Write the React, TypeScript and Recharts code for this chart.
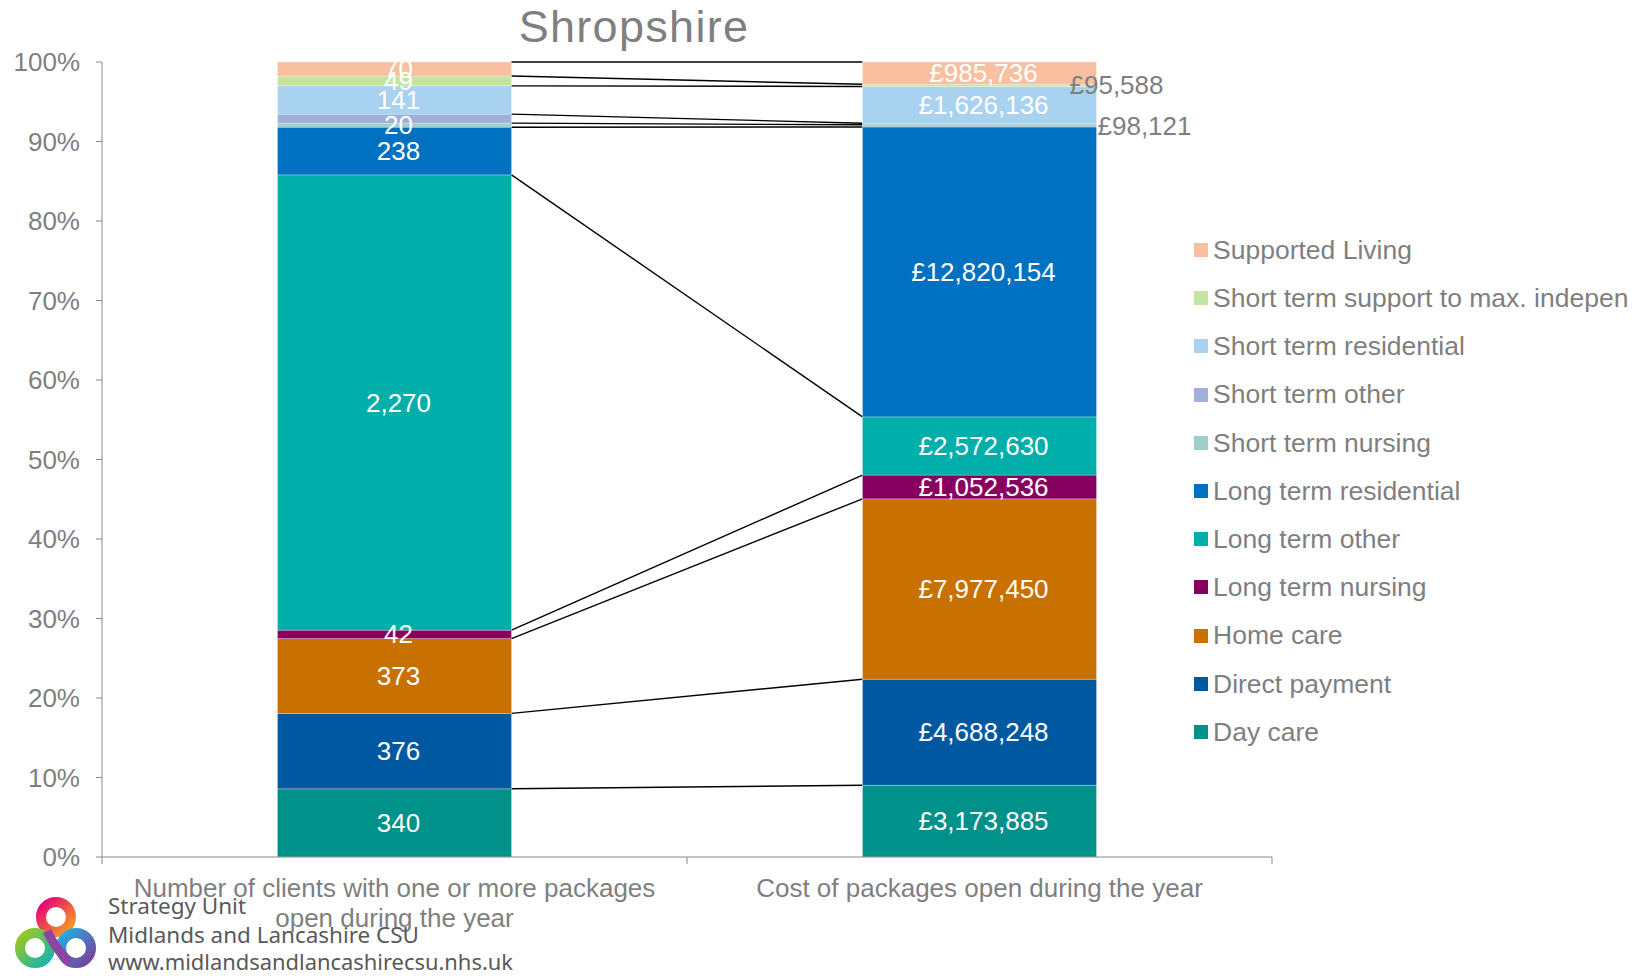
import { BarChart, Bar, XAxis, YAxis, Legend, LabelList } from 'recharts'

const CATEGORIES = [
  'Number of clients with one or more packages open during the year',
  'Cost of packages open during the year',
]
// the axis labels as Excel wrapped them
const CATEGORY_LINES = [
  ['Number of clients with one or more packages', 'open during the year'],
  ['Cost of packages open during the year'],
]

// stacking order, bottom to top
const SERIES_KEYS = [
  'dayCare',
  'directPayment',
  'homeCare',
  'ltNursing',
  'ltOther',
  'ltResidential',
  'stNursing',
  'stOther',
  'stResidential',
  'stSupport',
  'supportedLiving',
]
const SERIES_NAMES = [
  'Day care',
  'Direct payment',
  'Home care',
  'Long term nursing',
  'Long term other',
  'Long term residential',
  'Short term nursing',
  'Short term other',
  'Short term residential',
  'Short term support to max. indepen',
  'Supported Living',
]
const CLIENTS = [340, 376, 373, 42, 2270, 238, 20, 45, 141, 49, 70]
const COSTS = [3173885, 4688248, 7977450, 1052536, 2572630, 12820154, 98121, 70000, 1626136, 95588, 985736]
const Y_TICKS = [0, 0.1, 0.2, 0.3, 0.4, 0.5, 0.6, 0.7, 0.8, 0.9, 1]

const COLORS = [
  '#00918a',
  '#0059a0',
  '#c87000',
  '#870060',
  '#00afaa',
  '#0070c0',
  '#9ecfc8',
  '#a0b0d8',
  '#a9d1f0',
  '#c4e59f',
  '#f8bfa0',
]

// labels on the cost bar that Excel placed outside, with their x offset from the bar edge
const HIDDEN_LABELS = ['stOther']
const OUTSIDE_LABEL_DX: Record<string, number> = { stSupport: 20, stNursing: 48 }

const CHART_W = 1641
const CHART_H = 976
const Y_AXIS_W = 102
const MARGIN_RIGHT = 369
const MARGIN_TOP = 62
const X_AXIS_H = 119
const CATEGORY_GAP = 0.3
const PLOT_W = CHART_W - Y_AXIS_W - MARGIN_RIGHT
const GREY = '#7f7f7f'
const AXIS_GREY = '#898989'
const FONT = '"Liberation Sans", Arial, sans-serif'

const rows = CATEGORIES.map((name, i) => {
  const row: Record<string, string | number> = { name, idx: i }
  const src = i === 0 ? CLIENTS : COSTS
  SERIES_KEYS.forEach((k, s) => {
    row[k] = src[s]
  })
  return row
})

const sum = (a: number[]) => a.reduce((t, v) => t + v, 0)
const cum = (a: number[], n: number) => sum(a.slice(0, n))

const fmt = (v: number, cat: number) =>
  (cat === 1 ? '£' : '') + v.toLocaleString('en-GB')

// bar segment + Excel style series line to the same series on the next bar
const makeShape = (s: number) => (props: any) => {
  const { x, y, width, height, fill, index, background } = props
  const rect = (
    <rect
      x={x}
      y={y}
      width={width}
      height={Math.max(height, 0)}
      fill={fill}
      stroke="rgba(255,255,255,0.35)"
      strokeWidth={0.75}
    />
  )
  if (index !== 0) return rect
  const totL = sum(CLIENTS)
  const totR = sum(COSTS)
  let top: number
  let h: number
  if (background && background.height > 0) {
    top = background.y
    h = background.height
  } else {
    h = height / (CLIENTS[s] / totL)
    top = y + height + (cum(CLIENTS, s) / totL) * h - h
  }
  const step = width / (1 - 2 * CATEGORY_GAP)
  const y2 = top + h * (1 - cum(COSTS, s + 1) / totR)
  return (
    <g>
      {rect}
      <line x1={x + width} y1={y} x2={x + step} y2={y2} stroke="#000" strokeWidth={1.4} />
    </g>
  )
}

const makeLabel = (s: number) => (props: any) => {
  const vb = props.viewBox || props
  const { x, y, width, height } = vb
  const index = props.index
  const key = SERIES_KEYS[s]
  if (HIDDEN_LABELS.includes(key)) return null
  const value = index === 0 ? CLIENTS[s] : COSTS[s]
  const outside = index === 1 ? OUTSIDE_LABEL_DX[key] : undefined
  if (outside !== undefined) {
    return (
      <text
        x={x + width + outside}
        y={y + height / 2}
        dy="0.35em"
        textAnchor="middle"
        fill={GREY}
        fontSize={26}
      >
        {fmt(value, index)}
      </text>
    )
  }
  return (
    <text
      x={x + width / 2 + 4}
      y={y + height / 2}
      dy="0.35em"
      textAnchor="middle"
      fill="#fff"
      fontSize={26}
    >
      {fmt(value, index)}
    </text>
  )
}

function CategoryTick(props: any) {
  const { x, y, index } = props
  const step = PLOT_W / CATEGORIES.length
  const axisY = y - 8
  const lines = CATEGORY_LINES[index] || []
  return (
    <g>
      <line x1={x - step / 2} x2={x - step / 2} y1={axisY} y2={axisY + 7} stroke={AXIS_GREY} />
      {index === CATEGORIES.length - 1 && (
        <line x1={x + step / 2} x2={x + step / 2} y1={axisY} y2={axisY + 7} stroke={AXIS_GREY} />
      )}
      <text x={x} y={y + 32} textAnchor="middle" fontSize={26} fill={GREY}>
        {lines.map((l, i) => (
          <tspan key={i} x={x} dy={i === 0 ? 0 : 30}>
            {l}
          </tspan>
        ))}
      </text>
    </g>
  )
}

function LegendList() {
  const order = SERIES_KEYS.map((_, i) => i).reverse()
  return (
    <div style={{ display: 'flex', flexDirection: 'column', fontFamily: FONT }}>
      {order.map((i) => (
        <div
          key={SERIES_KEYS[i]}
          style={{ height: 48.2, display: 'flex', alignItems: 'center', whiteSpace: 'nowrap' }}
        >
          <span style={{ width: 14, height: 14, background: COLORS[i], marginRight: 5, flex: 'none' }} />
          <span style={{ fontSize: 26.5, color: GREY, lineHeight: 1 }}>{SERIES_NAMES[i]}</span>
        </div>
      ))}
    </div>
  )
}

function Logo() {
  return (
    <svg
      width={CHART_W}
      height={CHART_H}
      style={{ position: 'absolute', left: 0, top: 0, pointerEvents: 'none' }}
    >
      <defs>
        <linearGradient id="gTop" x1="0" y1="0" x2="1" y2="1">
          <stop offset="0%" stopColor="#e4007c" />
          <stop offset="100%" stopColor="#f7a21b" />
        </linearGradient>
        <linearGradient id="gLeft" x1="0" y1="0" x2="1" y2="1">
          <stop offset="0%" stopColor="#a3c81a" />
          <stop offset="100%" stopColor="#12b3b0" />
        </linearGradient>
        <linearGradient id="gRight" x1="0" y1="0" x2="1" y2="1">
          <stop offset="0%" stopColor="#22b0e6" />
          <stop offset="100%" stopColor="#7a3d98" />
        </linearGradient>
      </defs>
      <circle cx={56} cy={917} r={15} fill="none" stroke="url(#gTop)" strokeWidth={10} />
      <circle cx={35} cy={948} r={15} fill="none" stroke="url(#gLeft)" strokeWidth={10} />
      <circle cx={76} cy={948} r={15} fill="none" stroke="url(#gRight)" strokeWidth={10} />
      <path d="M 47 931 Q 57 951 70 963" fill="none" stroke="#8e44a0" strokeWidth={9} />
      <g fontFamily='"Noto Sans", "Open Sans", sans-serif' fontSize={22} fill="#595959">
        <text x={108} y={914} textLength={138} lengthAdjust="spacingAndGlyphs">
          Strategy Unit
        </text>
        <text x={108} y={943} textLength={311} lengthAdjust="spacingAndGlyphs">
          Midlands and Lancashire CSU
        </text>
        <text x={108} y={970} textLength={405} lengthAdjust="spacingAndGlyphs">
          www.midlandsandlancashirecsu.nhs.uk
        </text>
      </g>
    </svg>
  )
}

export default function App() {
  return (
    <div
      style={{
        position: 'absolute',
        left: 0,
        top: 0,
        width: CHART_W,
        height: CHART_H,
        background: '#fff',
        fontFamily: FONT,
        overflow: 'hidden',
      }}
    >
      <div
        style={{
          position: 'absolute',
          left: 434,
          top: 4,
          width: 400,
          textAlign: 'center',
          fontSize: 45,
          lineHeight: '45px',
          letterSpacing: 1.3,
          color: GREY,
        }}
      >
        Shropshire
      </div>
      <BarChart
        width={CHART_W}
        height={CHART_H}
        data={rows}
        stackOffset="expand"
        barCategoryGap={`${CATEGORY_GAP * 100}%`}
        margin={{ top: MARGIN_TOP, right: MARGIN_RIGHT, bottom: 0, left: 0 }}
      >
        <XAxis
          dataKey="name"
          height={X_AXIS_H}
          interval={0}
          tickLine={false}
          tickSize={6}
          tickMargin={2}
          axisLine={{ stroke: AXIS_GREY }}
          tick={<CategoryTick />}
        />
        <YAxis
          width={Y_AXIS_W}
          domain={[0, 1]}
          ticks={Y_TICKS}
          tickFormatter={(v: number) => `${Math.round(v * 100)}%`}
          tick={{ fill: GREY, fontSize: 26 }}
          tickSize={6}
          tickMargin={16}
          tickLine={{ stroke: AXIS_GREY }}
          axisLine={{ stroke: AXIS_GREY }}
        />
        <Legend
          layout="vertical"
          align="center"
          verticalAlign="middle"
          wrapperStyle={{ left: 1194, top: 226, width: 'auto' }}
          content={() => <LegendList />}
        />
        {SERIES_KEYS.map((k, s) => (
          <Bar
            key={k}
            dataKey={k}
            name={SERIES_NAMES[s]}
            stackId="a"
            fill={COLORS[s]}
            shape={makeShape(s)}
            isAnimationActive={false}
          >
            <LabelList dataKey={k} content={makeLabel(s)} />
          </Bar>
        ))}
      </BarChart>
      <Logo />
    </div>
  )
}
